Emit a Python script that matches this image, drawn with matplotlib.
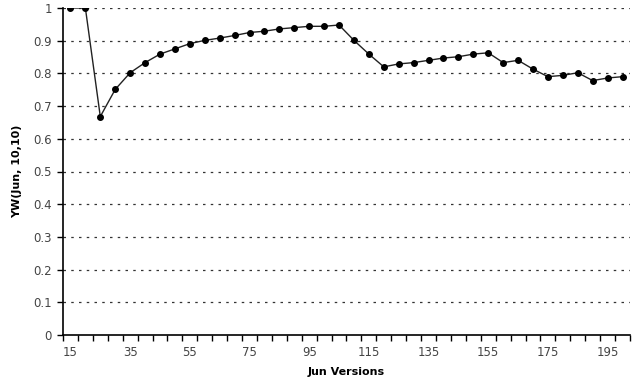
import numpy as np
import matplotlib.pyplot as plt
from matplotlib.ticker import FixedLocator, NullFormatter

# Jun versions (one category every 5 versions)
versions = list(range(15, 205, 5))

# YW(Jun, 10,10)
yw = [1.0, 1.0, 0.668, 0.751, 0.802, 0.833, 0.859, 0.875, 0.891, 0.901,
      0.908, 0.916, 0.925, 0.929, 0.936, 0.940, 0.944, 0.944, 0.948, 0.901,
      0.859, 0.820, 0.829, 0.833, 0.840, 0.847, 0.851, 0.859, 0.863, 0.833,
      0.840, 0.813, 0.790, 0.794, 0.802, 0.778, 0.786, 0.790]

xtick_labels = [15, 35, 55, 75, 95, 115, 135, 155, 175, 195]
ytick_values = [0, 0.1, 0.2, 0.3, 0.4, 0.5, 0.6, 0.7, 0.8, 0.9, 1]

plt.rcParams['font.family'] = ['DejaVu Sans']

fig = plt.figure(figsize=(6.35, 3.85), dpi=100)
ax = fig.add_axes([63/635, 50/385, 567/635, 327/385])

ax.plot(versions, yw, color="#222222", linewidth=1.0, marker="o",
        markersize=4, markerfacecolor="black", markeredgecolor="black",
        zorder=3)

# category-style axis: labels at centres, tick marks at the boundaries
ax.set_xlim(versions[0] - 2.5, versions[-1] + 2.5)
ax.set_xticks(xtick_labels)
ax.set_xticklabels([str(v) for v in xtick_labels])
ax.xaxis.set_minor_locator(FixedLocator(np.arange(versions[0] - 2.5,
                                                  versions[-1] + 5, 5)))
ax.xaxis.set_minor_formatter(NullFormatter())
ax.tick_params(axis="x", which="major", length=0, pad=8)
ax.tick_params(axis="x", which="minor", length=4, width=1, color="black")

ax.set_ylim(0, 1)
ax.set_yticks(ytick_values)
ax.set_yticklabels(["0", "0.1", "0.2", "0.3", "0.4", "0.5", "0.6", "0.7",
                    "0.8", "0.9", "1"])
ax.tick_params(axis="y", length=4, width=1, color="black", pad=4)
ax.tick_params(labelsize=8.5, labelcolor="#444444")

for yv in ytick_values[1:]:
    ax.axhline(yv, color="#333333", linewidth=0.9, linestyle=(0, (2, 4.2)),
               zorder=1)

for side in ["top", "right"]:
    ax.spines[side].set_visible(False)
for side in ["left", "bottom"]:
    ax.spines[side].set_color("black")
    ax.spines[side].set_linewidth(1.2)

ax.set_xlabel("Jun Versions", fontsize=8, fontweight="bold", labelpad=6)
ax.set_ylabel("YW(Jun, 10,10)", fontsize=8, fontweight="bold", labelpad=8)

fig.savefig("out.png", dpi=100)
